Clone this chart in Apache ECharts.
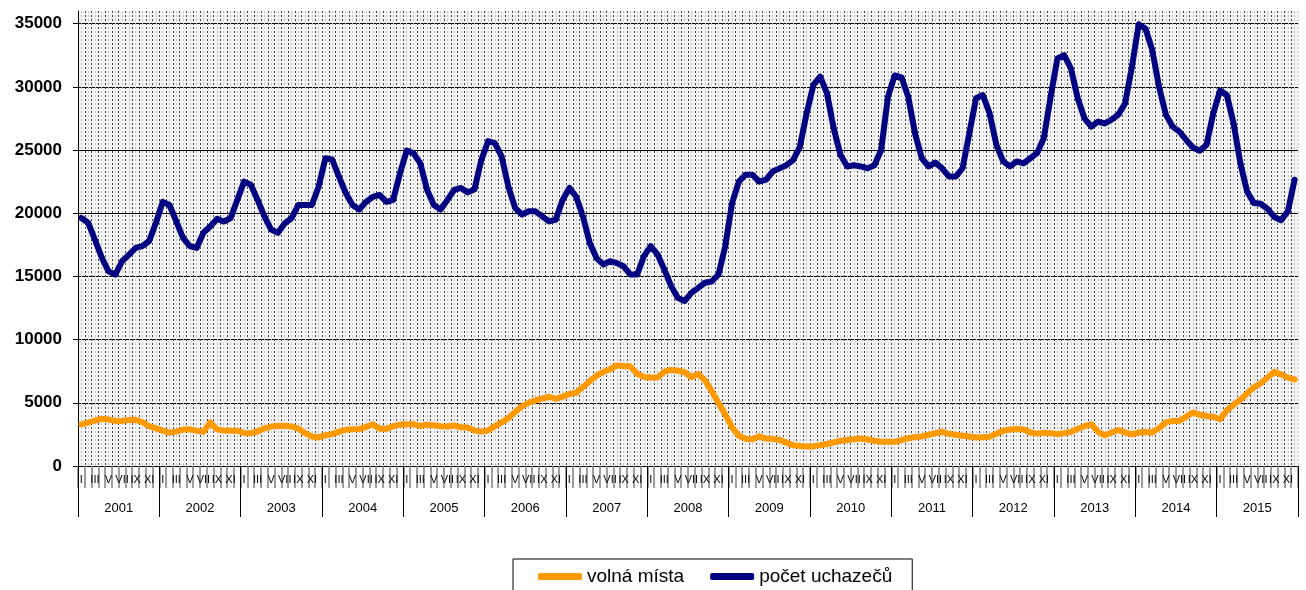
<!DOCTYPE html>
<html>
<head>
<meta charset="utf-8">
<script src="https://cdn.jsdelivr.net/npm/echarts@6/dist/echarts.min.js"></script>
<style>
html,body{margin:0;padding:0;background:#fff}
#main{width:1306px;height:590px}
</style>
</head>
<body>
<div id="main"></div>
<script>
// roky a mesice (rimske cislice)
var roky = ['2001','2002','2003','2004','2005','2006','2007','2008','2009','2010','2011','2012','2013','2014','2015'];
var mesice = ['I','II','III','IV','V','VI','VII','VIII','IX','X','XI','XII'];

// volna mista - po mesicich 2001-2015
var volnaMista = [
	3300,3430,3600,3740,3680,3570,3570,3640,3650,3480,3150,2970,
	2800,2640,2720,2880,2900,2790,2710,3450,2900,2800,2790,2790,
	2620,2600,2730,2980,3120,3160,3180,3130,2960,2600,2330,2260,
	2440,2520,2720,2860,2910,2920,3100,3300,2950,2940,3150,3270,
	3310,3310,3160,3260,3230,3150,3130,3210,3060,3050,2800,2720,
	2800,3150,3450,3800,4280,4720,5000,5200,5330,5480,5310,5490,
	5700,5810,6250,6700,7150,7440,7650,7960,7910,7870,7300,7050,
	7000,7000,7460,7600,7540,7420,7030,7280,6770,5920,4990,4080,
	3050,2400,2160,2110,2350,2170,2140,2070,1850,1650,1580,1550,
	1550,1650,1740,1870,2000,2060,2120,2180,2100,2000,1920,1920,
	1920,2050,2200,2290,2340,2470,2590,2710,2550,2470,2400,2330,
	2260,2280,2310,2550,2790,2880,2920,2880,2650,2560,2640,2600,
	2520,2600,2700,2950,3150,3300,2700,2430,2650,2840,2650,2500,
	2650,2690,2660,3000,3450,3570,3570,3900,4240,4050,3960,3900,
	3700,4400,4850,5250,5750,6230,6550,7000,7450,7250,7000,6850
];

// pocet uchazecu - po mesicich 2001-2015
var uchazeci = [
	19620,19250,17900,16500,15400,15150,16200,16700,17250,17400,17800,19250,
	20900,20650,19350,18050,17400,17250,18450,18950,19550,19350,19600,21050,
	22500,22250,21050,19750,18700,18450,19200,19600,20650,20650,20650,22100,
	24350,24250,22900,21600,20650,20300,20900,21300,21450,20900,21050,23150,
	24950,24750,23950,21850,20650,20300,21050,21850,22000,21650,21900,24200,
	25700,25550,24500,22100,20400,19900,20150,20150,19750,19350,19500,21050,
	22000,21300,19750,17650,16450,15950,16200,16050,15800,15150,15150,16600,
	17400,16750,15550,14250,13300,13050,13700,14100,14500,14600,15150,17400,
	20800,22500,23050,23050,22500,22650,23300,23550,23800,24200,25250,27900,
	30150,30800,29500,26700,24600,23700,23800,23700,23550,23800,25000,29200,
	30900,30750,29200,26300,24350,23700,24000,23550,22900,22900,23550,26300,
	29100,29350,27900,25400,24100,23700,24100,23950,24350,24750,25950,29200,
	32250,32500,31450,29100,27500,26850,27250,27100,27400,27800,28700,31600,
	34950,34600,32900,30000,27800,26850,26450,25800,25200,24950,25400,27900,
	29700,29350,27100,23950,21700,20800,20750,20350,19700,19450,20150,22650
];

// kategorie rok|mesic
var kategorie = [];
for (var r = 0; r < roky.length; r++) {
	for (var m = 0; m < mesice.length; m++) {
		kategorie.push(roky[r] + '|' + mesice[m]);
	}
}
// pomocna osa pro jemne cary pozadi (pulmesice)
var pulMesice = [];
for (var k = 0; k < kategorie.length * 2; k++) {
	pulMesice.push('p' + k);
}

var myChart = echarts.init(document.getElementById('main'));

var option = {
	animation: false,
	textStyle: {
		fontFamily: 'Liberation Sans, Arial, sans-serif'
	},
	color: ['#FF9900', '#000080'],
	grid: {
		left: 78,
		right: 8,
		top: 11,
		bottom: 124,
		show: true,
		backgroundColor: '#f3f3f3',
		borderWidth: 0
	},
	legend: {
		data: ['volná místa', 'počet uchazečů'],
		left: 513,
		top: 559,
		icon: 'roundRect',
		itemWidth: 44,
		itemHeight: 7,
		itemGap: 26,
		padding: [8, 20, 14, 25],
		borderColor: '#000',
		borderWidth: 1,
		textStyle: {
			fontSize: 19,
			color: '#000'
		}
	},
	xAxis: [
		{
			type: 'category',
			data: kategorie,
			boundaryGap: true,
			axisLine: { show: true, lineStyle: { color: '#000', width: 1 } },
			axisTick: { show: true, interval: 0, length: 22, lineStyle: { color: '#808080', width: 1.5 } },
			axisLabel: {
				interval: 1,
				fontSize: 11,
				margin: 8,
				color: '#000',
				formatter: function (v) { return v.split('|')[1]; }
			},
			splitLine: { show: true, interval: 0, lineStyle: { color: '#444', type: [2, 2], width: 1 } }
		},
		{
			type: 'category',
			data: roky,
			position: 'bottom',
			boundaryGap: true,
			axisLine: { show: false },
			axisTick: { show: true, interval: 0, length: 51, lineStyle: { color: '#000', width: 1 } },
			axisLabel: { interval: 0, fontSize: 13, margin: 36, color: '#000' },
			splitLine: { show: false }
		},
		{
			type: 'category',
			data: pulMesice,
			position: 'top',
			boundaryGap: true,
			axisLine: { show: false },
			axisTick: { show: false },
			axisLabel: { show: false },
			splitLine: {
				show: true,
				interval: function (i) { return i % 2 === 1; },
				lineStyle: { color: '#c4c4c4', type: [2, 2], width: 1 }
			}
		}
	],
	yAxis: {
		type: 'value',
		min: 0,
		max: 36000,
		interval: 5000,
		axisLine: { show: true, lineStyle: { color: '#000', width: 1 } },
		axisTick: { show: true, length: 5, lineStyle: { color: '#000' } },
		axisLabel: {
			fontSize: 17,
			fontWeight: 'bold',
			color: '#000',
			margin: 16,
			showMaxLabel: false,
			formatter: function (v) { return String(v); }
		},
		splitLine: { show: true, showMaxLine: false, lineStyle: { color: '#000', width: 1 } }
	},
	series: [
		{
			name: 'volná místa',
			type: 'line',
			xAxisIndex: 0,
			data: volnaMista,
			symbol: 'none',
			lineStyle: { color: '#FF9900', width: 6, cap: 'round', join: 'round' },
			itemStyle: { color: '#FF9900' }
		},
		{
			name: 'počet uchazečů',
			type: 'line',
			xAxisIndex: 0,
			data: uchazeci,
			symbol: 'none',
			lineStyle: { color: '#000080', width: 6, cap: 'round', join: 'round' },
			itemStyle: { color: '#000080' }
		}
	]
};

myChart.setOption(option);
</script>
</body>
</html>
